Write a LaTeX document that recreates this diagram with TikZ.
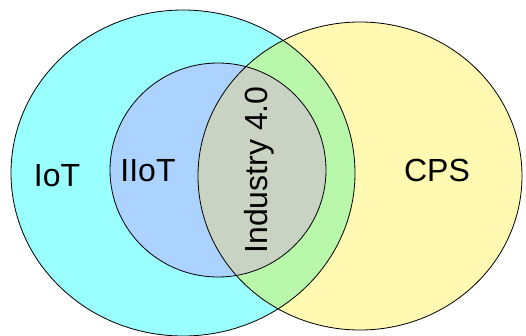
\documentclass[tikz,border=0pt]{standalone}
\usepackage{fontspec}
\setmainfont{Liberation Sans}
\definecolor{iotcyan}{HTML}{99FFFF}
\definecolor{cpsyellow}{HTML}{FFF9B1}
\definecolor{iiotblue}{HTML}{ACD2FF}
\definecolor{overlapgreen}{HTML}{B9F7AA}
\definecolor{industrygrey}{HTML}{C8D3C3}
\begin{document}
\begin{tikzpicture}[x=1pt, y=-1pt,
    vennlabel/.style={font=\fontsize{32}{38}\selectfont, anchor=base, inner sep=0pt},
    vennline/.style={draw=black, line width=0.8pt}]
    \useasboundingbox (0,0) rectangle (526,336);

    % IoT (left)
    \fill[iotcyan] (183,173) ellipse [x radius=172pt, y radius=163pt];

    % CPS (right)
    \fill[cpsyellow] (360,176) ellipse [x radius=162pt, y radius=154pt];

    % IoT and CPS overlap
    \begin{scope}
        \clip (183,173) ellipse [x radius=172pt, y radius=163pt];
        \fill[overlapgreen] (360,176) ellipse [x radius=162pt, y radius=154pt];
    \end{scope}

    % IIoT (inside IoT)
    \fill[iiotblue] (218,170) ellipse [x radius=108pt, y radius=107pt];

    % Industry 4.0 (IIoT and CPS overlap)
    \begin{scope}
        \clip (218,170) ellipse [x radius=108pt, y radius=107pt];
        \fill[industrygrey] (360,176) ellipse [x radius=162pt, y radius=154pt];
    \end{scope}

    % outlines
    \draw[vennline] (183,173) ellipse [x radius=172pt, y radius=163pt];
    \draw[vennline] (360,176) ellipse [x radius=162pt, y radius=154pt];
    \draw[vennline] (218,170) ellipse [x radius=108pt, y radius=107pt];

    % labels
    \node[vennlabel] (iot) at (57,187) {IoT};
    \node[vennlabel] (iiot) at (148,182) {IIoT};
    \node[vennlabel] (cps) at (437,182) {CPS};
    \node[vennlabel, rotate=90] (industry) at (267,170) {Industry 4.0};

\end{tikzpicture}
\end{document}
